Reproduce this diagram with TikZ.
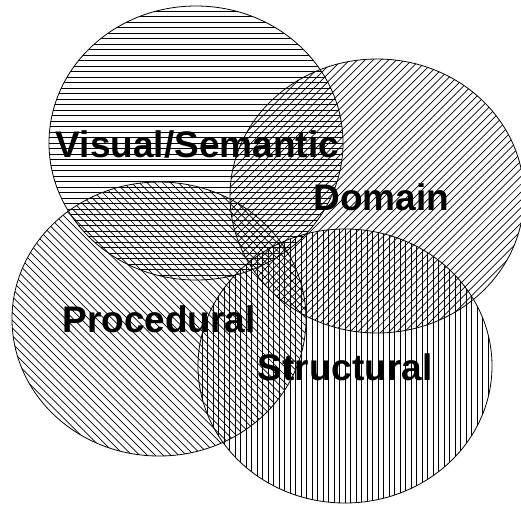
\documentclass[tikz,border=0pt]{standalone}
\usepackage{fontspec}
\setmainfont{Liberation Sans}
\usetikzlibrary{shapes.geometric,calc}
\tikzset{
  setbox/.style={ellipse, draw, line width=0.8pt, inner sep=0pt, outer sep=0pt,
    minimum width=294pt, minimum height=274pt},
  % parallel hatch lines at the given angle, clipped to the shape
  hatch/.style={path picture={
    \foreach \k in {-30,...,30}
      \draw[line width=0.7pt]
        ($(path picture bounding box.center)+(#1+90:\k*5.5pt)+(#1:-220pt)$) --
        ($(path picture bounding box.center)+(#1+90:\k*5.5pt)+(#1:220pt)$);}},
  setname/.style={font=\bfseries\fontsize{37}{37}\selectfont, anchor=base, inner sep=0pt}
}
\begin{document}
\begin{tikzpicture}[x=1pt, y=-1pt]
  \useasboundingbox (0,0) rectangle (521,507);
  % the four overlapping sets, each with its own hatching
  \node[setbox, hatch=0]   (visual)     at (196,143) {};
  \node[setbox, hatch=45]  (domain)     at (377,196) {};
  \node[setbox, hatch=-45] (procedural) at (159,319) {};
  \node[setbox, hatch=90]  (structural) at (345,366) {};
  % set names
  \node[setname] (tvisual)     at (197.5,157) {Visual/Semantic};
  \node[setname] (tdomain)     at (381.5,210) {Domain};
  \node[setname] (tprocedural) at (159,332)   {Procedural};
  \node[setname] (tstructural) at (345,380)   {Structural};
\end{tikzpicture}
\end{document}
